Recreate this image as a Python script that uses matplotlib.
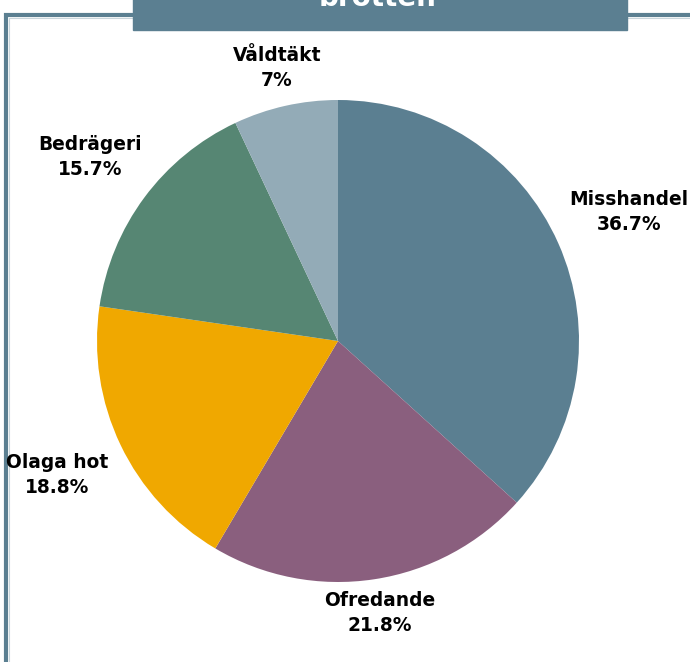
import numpy as np
import matplotlib
matplotlib.use("Agg")
import matplotlib.pyplot as plt
from matplotlib.patches import Rectangle

# slice data (clockwise from 12 o'clock)
labels = ['Misshandel', 'Ofredande', 'Olaga hot', 'Bedrägeri', 'Våldtäkt']
shares = [36.7, 21.8, 18.8, 15.7, 7]
colors = ['#5b7f91', '#8a5f7e', '#f0a800', '#568673', '#93abb7']
pct_text = ['36.7%', '21.8%', '18.8%', '15.7%', '7%']
title = 'brotten'

# distance of each label from centre, in radii
label_dist = [1.32, 1.14, 1.29, 1.28, 1.16]

W, H = 690, 662
fig = plt.figure(figsize=(W / 100, H / 100), dpi=100)
ax = fig.add_axes([0, 0, 1, 1])

cx, cy, r = 338, H - 341, 241
wedges, _ = ax.pie(shares, colors=colors, startangle=90, counterclock=False,
                   center=(cx, cy), radius=r, wedgeprops=dict(linewidth=0))

for w, lab, pct, d in zip(wedges, labels, pct_text, label_dist):
    ang = np.deg2rad((w.theta1 + w.theta2) / 2)
    x = cx + d * r * np.cos(ang)
    y = cy + d * r * np.sin(ang)
    ax.text(x, y, lab + '\n' + pct, ha='center', va='center',
            fontsize=13.4, fontweight='bold', family='DejaVu Sans',
            linespacing=1.4, color='black')

# frame lines on left and top
ax.plot([6, 6, W + 5], [-5, H - 15, H - 15], color='#5b7f91', lw=3,
        solid_joinstyle='miter', zorder=1)
ax.plot([8.5, 8.5, W + 5], [-5, H - 17.5, H - 17.5], color='#c9d5db', lw=0.8,
        zorder=1)

# title box, cut off at the top
ax.add_patch(Rectangle((133, H - 30), 494, 40, color='#5b7f91', zorder=2))
ax.text(378, H - 6, title, ha='center', va='baseline', color='white',
        fontsize=20, fontweight='bold', zorder=3)

ax.set_xlim(0, W)
ax.set_ylim(0, H)
ax.set_aspect('equal', adjustable='datalim')
ax.axis('off')

fig.savefig('out.png', dpi=100)
